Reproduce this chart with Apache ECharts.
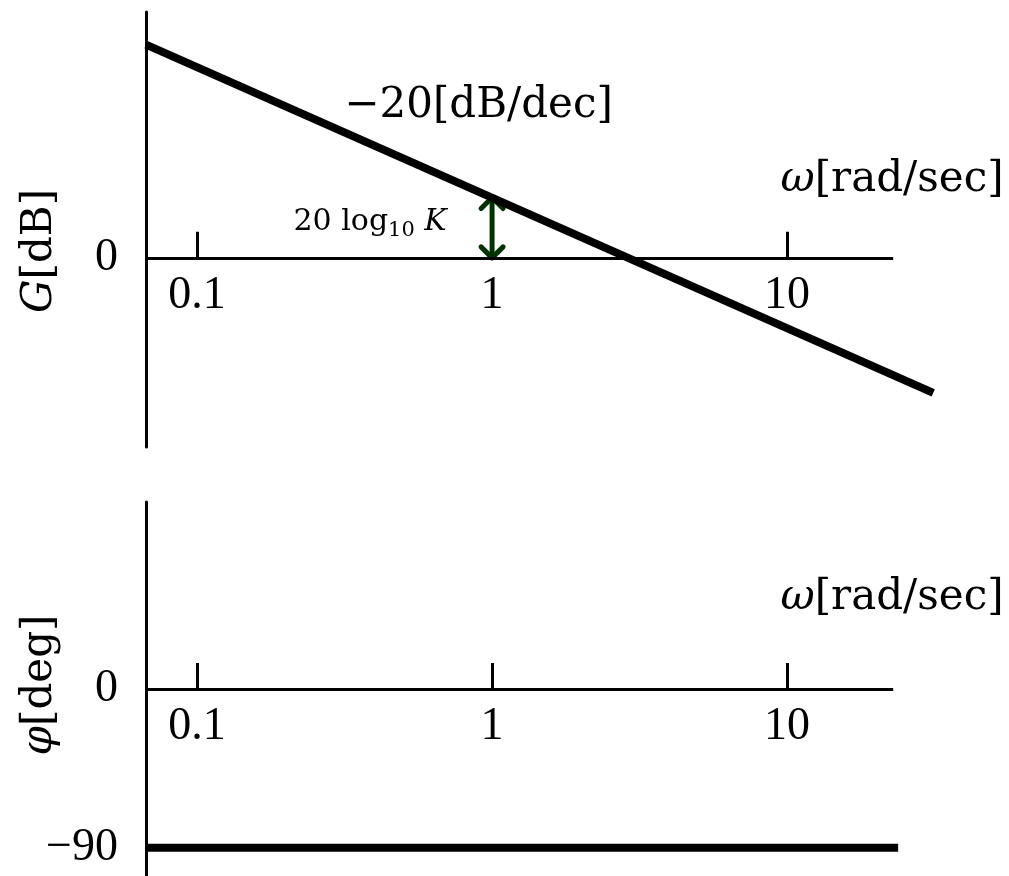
<!DOCTYPE html>
<html>
<head>
<meta charset="utf-8">
<script src="https://cdn.jsdelivr.net/npm/echarts@6/dist/echarts.min.js"></script>
<style>
html,body{margin:0;padding:0;background:#fff;}
#chart{width:1009px;height:876px;}
</style>
</head>
<body>
<div id="chart"></div>
<script>
// ---- data ----
const tickValues = [0.1, 1, 10];           // x tick labels (omega, log scale)
const axisOmega = [0.0671, 22.9];          // extent of the drawn omega axis line
const gainOmega = [0.0671, 31.3];          // omega at ends of gain asymptote
const gainDb = [32.7, -20.7];              // gain [dB] at those omegas
const phaseOmega = [0.0671, 23.8];         // omega at ends of phase line
const phaseDeg = [-90, -90];               // phase [deg]
const gainLabelValues = [0];               // y tick labels, gain panel
const phaseLabelValues = [0, -90];         // y tick labels, phase panel
const kOmega = [1];                        // omega of the 20log10K arrow
const kDbFrom = [0];                       // arrow bottom [dB]
const kDbTo = [9.25];                      // arrow top = 20log10K [dB]

const X_MIN = 0.0671, X_MAX = 33.0;
const G_MIN = -29, G_MAX = 37.7;
const P_MIN = -106, P_MAX = 106;
const G_TOP = 12, G_H = 435, P_TOP = 502, P_H = 374;

const WORD_FONT = 'DejaVu Serif';
const NUM_FONT = 'Liberation Serif';

function numFmt(v) {
  const n = +(+v).toPrecision(3);
  return n < 0 ? '\u2212' + Math.abs(n) : String(n);
}

function xAxisOf(gridIndex, padBottom, yMin, yMax, h) {
  return {
    type: 'log', logBase: 10, gridIndex: gridIndex,
    min: X_MIN, max: X_MAX,
    position: 'bottom',
    offset: -(0 - yMin) / (yMax - yMin) * h,   // put the axis on the zero line
    axisLine: { show: false, onZero: false },
    axisTick: { show: true, inside: true, length: 26, customValues: tickValues,
      lineStyle: { color: '#000', width: 3 } },
    minorTick: { show: false },
    splitLine: { show: false },
    axisLabel: { show: true, customValues: tickValues, margin: 15, color: '#000',
      fontFamily: NUM_FONT, fontSize: 46, formatter: numFmt },
    name: '{i|\u03c9}[rad/sec]',
    nameLocation: 'end', nameGap: -48, nameMoveOverlap: false,
    nameTextStyle: {
      color: '#000', fontFamily: WORD_FONT, fontSize: 42,
      align: 'center', verticalAlign: 'bottom', padding: [0, 0, padBottom, 0],
      rich: { i: { fontFamily: WORD_FONT, fontSize: 42, fontStyle: 'italic', color: '#000' } }
    }
  };
}

function yAxisOf(gridIndex, min, max, labels, name, nameGap, pad) {
  return {
    type: 'value', gridIndex: gridIndex, min: min, max: max,
    axisLine: { show: true, onZero: false, lineStyle: { color: '#000', width: 3 } },
    axisTick: { show: false },
    splitLine: { show: false },
    axisLabel: { show: true, customValues: labels, margin: 28, color: '#000',
      fontFamily: NUM_FONT, fontSize: 46, formatter: numFmt },
    name: name, nameLocation: 'middle', nameRotate: 90, nameGap: nameGap,
    nameMoveOverlap: false,
    nameTextStyle: {
      color: '#000', fontFamily: WORD_FONT, fontSize: 42, padding: pad,
      rich: { i: { fontFamily: WORD_FONT, fontSize: 42, fontStyle: 'italic', color: '#000' } }
    }
  };
}

function axisLineMark() {
  return {
    silent: true, animation: false, symbol: ['none', 'none'],
    label: { show: false },
    emphasis: { disabled: true },
    lineStyle: { color: '#000', width: 3, type: 'solid' },
    data: [[{ coord: [axisOmega[0], 0] }, { coord: [axisOmega[1], 0] }]]
  };
}

const ARROW = '#003300';
function renderArrow(params, api) {
  const p0 = api.coord([api.value(0), api.value(1)]);
  const p1 = api.coord([api.value(0), api.value(2)]);
  const w = 11, h = 11;
  const st = { stroke: ARROW, lineWidth: 5, fill: null, lineJoin: 'round', lineCap: 'round' };
  return {
    type: 'group',
    children: [
      { type: 'line', shape: { x1: p0[0], y1: p0[1], x2: p1[0], y2: p1[1] },
        style: { stroke: ARROW, lineWidth: 5 } },
      { type: 'polyline', shape: { points: [[p1[0] - w, p1[1] + h], [p1[0], p1[1]], [p1[0] + w, p1[1] + h]] }, style: st },
      { type: 'polyline', shape: { points: [[p0[0] - w, p0[1] - h], [p0[0], p0[1]], [p0[0] + w, p0[1] - h]] }, style: st }
    ]
  };
}

const option = {
  backgroundColor: '#fff',
  animation: false,
  grid: [
    { left: 146, right: 69, top: G_TOP, height: G_H, containLabel: false, outerBoundsMode: 'none' },
    { left: 146, right: 69, top: P_TOP, height: P_H, containLabel: false, outerBoundsMode: 'none' }
  ],
  xAxis: [xAxisOf(0, 57, G_MIN, G_MAX, G_H), xAxisOf(1, 70, P_MIN, P_MAX, P_H)],
  yAxis: [
    yAxisOf(0, G_MIN, G_MAX, gainLabelValues, '{i|G}[dB]', 85, [0, 43, 0, 0]),
    yAxisOf(1, P_MIN, P_MAX, phaseLabelValues, '{i|\u03c6}[deg]', 85, [0, 0, 0, 8])
  ],
  series: [
    {
      type: 'line', xAxisIndex: 0, yAxisIndex: 0,
      symbol: 'none', silent: true,
      lineStyle: { color: '#000', width: 8 },
      data: gainOmega.map((w, i) => [w, gainDb[i]]),
      markLine: axisLineMark(),
      markPoint: {
        silent: true, symbol: 'circle', symbolSize: 0,
        label: { show: true, position: 'inside', color: '#000' },
        data: [
          { coord: [0.9, 23.3], label: { formatter: '\u221220[dB/dec]',
              fontFamily: WORD_FONT, fontSize: 42, color: '#000' } },
          { coord: [0.386, 5.5], label: {
              formatter: '{n|20 log}{s|10}{n| }{k|K}',
              rich: {
                n: { fontFamily: WORD_FONT, fontSize: 30, lineHeight: 30, color: '#000' },
                s: { fontFamily: WORD_FONT, fontSize: 21, lineHeight: 21, color: '#000', padding: [18, 0, 0, 0] },
                k: { fontFamily: WORD_FONT, fontSize: 30, lineHeight: 30, fontStyle: 'italic', color: '#000' }
              } } }
        ]
      }
    },
    {
      type: 'custom', xAxisIndex: 0, yAxisIndex: 0, silent: true,
      renderItem: renderArrow,
      data: kOmega.map((w, i) => [w, kDbFrom[i], kDbTo[i]])
    },
    {
      type: 'line', xAxisIndex: 1, yAxisIndex: 1,
      symbol: 'none', silent: true,
      lineStyle: { color: '#000', width: 8 },
      data: phaseOmega.map((w, i) => [w, phaseDeg[i]]),
      markLine: axisLineMark()
    }
  ]
};

const chart = echarts.init(document.getElementById('chart'), null, { renderer: 'canvas' });
chart.setOption(option);
</script>
</body>
</html>
